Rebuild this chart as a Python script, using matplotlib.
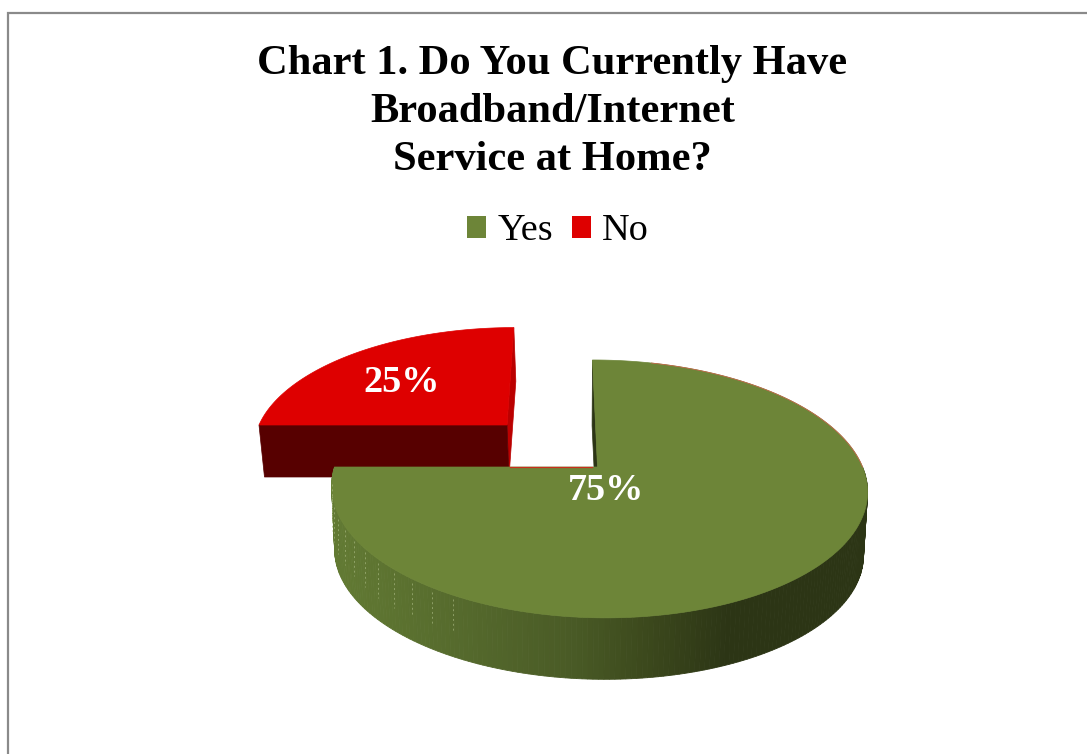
import matplotlib
matplotlib.use('Agg')

import matplotlib.pyplot as plt
import numpy as np
from matplotlib.colors import LinearSegmentedColormap
from matplotlib.patches import Patch, Polygon

title = 'Chart 1. Do You Currently Have\nBroadband/Internet\nService at Home?'
labels = ['Yes', 'No']
shares = [75, 25]

green = '#6d8538'
red = '#de0000'
red_dark = '#570000'
red_wall = '#bb0000'
green_wall = '#2c3515'

# side wall shading runs from the left rim to the right rim
side_cmap = LinearSegmentedColormap.from_list(
    'side', [(0.0, '#627a33'), (0.22, '#566b2d'), (0.44, '#4a5b26'),
             (0.56, '#3e4c1e'), (0.74, '#2c3515'), (1.0, '#2c3515')])


def project(theta, view):
    # theta in radians, view = centre x, centre y, width, height, k, m, shear
    cx, cy, w, h, k, m, s = view
    X, Y = np.cos(theta), np.sin(theta)
    den = 1 + k * Y + m * X
    return cx + (w * X + s * Y) / den, cy - h * Y / den


def ring(start, end, view, n=200):
    t = np.radians(np.linspace(start, end, n))
    x, y = project(t, view)
    return np.column_stack([x, y])


plt.rcParams['font.family'] = ['Liberation Serif', 'DejaVu Serif']
fig = plt.figure(figsize=(10.87, 7.54), dpi=100)
ax = fig.add_axes([0, 0, 1, 1])
ax.set_xlim(0, 1087)
ax.set_ylim(754, 0)
ax.axis('off')

# page border, only top and left are in view
ax.plot([7.5, 7.5, 1087], [754, 12.5, 12.5], color='#8a8a8a', lw=1.6, solid_joinstyle='miter')

# slices start at 12 o'clock and go clockwise
yes_sweep = 360 * shares[0] / sum(shares)
yes_start, yes_end = 90, 90 - yes_sweep
no_start, no_end = yes_end, yes_end - 360 * shares[1] / sum(shares)

yes_top = (597.5, 467, 264, 125.2, 0.17, -0.004, -5.85)
yes_bottom = (597, 531, 260.5, 123.1, 0.17, -0.004, -5.75)
no_top = (507, 425, 249, 114, 0.17, -0.004, 8)
no_bottom = (509, 477, 245.5, 112, 0.17, -0.004, 8)

# red slice sits behind the green one
apex_t = np.array([no_top[:2]])
apex_b = np.array([no_bottom[:2]])
edge_t = ring(no_end, no_end, no_top, 1)
edge_b = ring(no_end, no_end, no_bottom, 1)
ax.add_patch(Polygon(np.vstack([edge_t, apex_t, apex_b, edge_b]), closed=True, fc=red_wall, ec=red_wall, lw=0.5))
side_t = ring(no_start, no_start, no_top, 1)
side_b = ring(no_start, no_start, no_bottom, 1)
ax.add_patch(Polygon(np.vstack([side_t, apex_t, apex_b, side_b]), closed=True, fc=red_dark, ec=red_dark, lw=0.5))
ax.add_patch(Polygon(np.vstack([apex_t, ring(no_start, no_end, no_top)]), closed=True, fc=red, ec=red, lw=0.5))

# green slice: wall at 12 o'clock, then rim, then top face
wall = np.vstack([ring(yes_start, yes_start, yes_top, 1), [yes_top[:2]], [yes_bottom[:2]],
                  ring(yes_start, yes_start, yes_bottom, 1)])
ax.add_patch(Polygon(wall, closed=True, fc=green_wall, ec=green_wall, lw=0.5))

steps = np.linspace(-180, 0, 181)
rim_t = ring(-180, 0, yes_top, 181)
rim_b = ring(-180, 0, yes_bottom, 181)
x_min, x_max = rim_t[:, 0].min(), rim_t[:, 0].max()
for i in range(len(steps) - 1):
    quad = np.array([rim_t[i], rim_t[i + 1], rim_b[i + 1], rim_b[i]])
    shade = side_cmap((rim_t[i, 0] - x_min) / (x_max - x_min))
    ax.add_patch(Polygon(quad, closed=True, fc=shade, ec=shade, lw=0.6))

# pale seams on the left part of the rim
for i in range(6, 62, 5):
    ax.plot([rim_t[i, 0], rim_t[i, 0]], [rim_t[i, 1] + 4, rim_b[i, 1] - 24], color='#a3b47c', lw=0.7,
            ls=(0, (2, 3)), alpha=0.7)

ax.add_patch(Polygon(np.vstack([[yes_top[:2]], ring(yes_start, yes_end, yes_top, 400)]), closed=True,
                     fc=green, ec=green, lw=0.5))
# thin red fringe along the far edge of the green face
fringe = ring(75, 0, yes_top, 100)
ax.plot(fringe[:, 0], fringe[:, 1], color='#c2674a', lw=0.6)
ax.plot([510, 592], [467, 467], color='#c8301c', lw=0.9)

ax.text(552.5, 112, title, ha='center', va='center', fontsize=30.6, fontweight='bold', linespacing=1.36,
        color='black')

handles = [Patch(fc=green, ec='none'), Patch(fc=red, ec='none')]
ax.legend(handles, labels, ncol=2, loc='center', bbox_to_anchor=(558, 231),
          bbox_transform=ax.transData, frameon=False, fontsize=27.5, handlelength=0.5,
          handleheight=0.5, handletextpad=0.29, columnspacing=0.5, labelcolor='black')

ax.text(606, 490, f'{shares[0]}%', ha='center', va='center', fontsize=27.5, fontweight='bold', color='white')
ax.text(402, 383, f'{shares[1]}%', ha='center', va='center', fontsize=27.5, fontweight='bold', color='white')

fig.savefig('out.png', dpi=100)
